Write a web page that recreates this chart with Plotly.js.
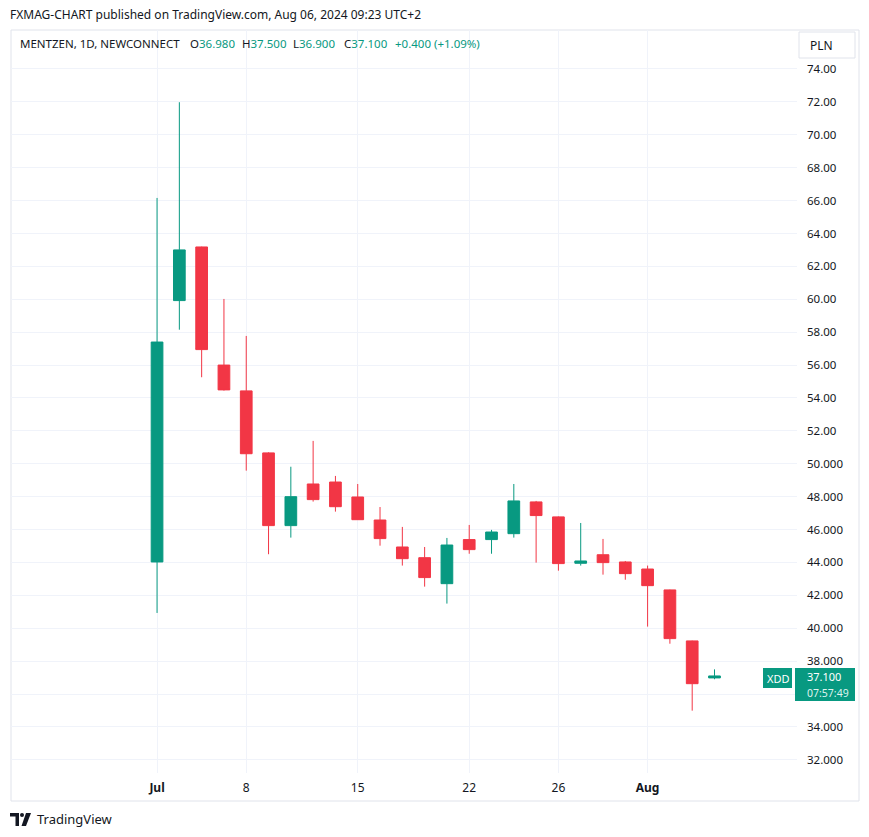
<!DOCTYPE html>
<html>
<head>
<meta charset="utf-8">
<script src="https://cdn.plot.ly/plotly-3.0.1.min.js"></script>
<style>
  html, body { margin: 0; padding: 0; background: #ffffff; }
  #chart { width: 869px; height: 837px; }
</style>
</head>
<body>
<div id="chart"></div>
<script>
// ---- data ----
const dates = [
  "2024-07-02","2024-07-03","2024-07-04","2024-07-05",
  "2024-07-08","2024-07-09","2024-07-10","2024-07-11","2024-07-12",
  "2024-07-15","2024-07-16","2024-07-17","2024-07-18","2024-07-19",
  "2024-07-22","2024-07-23","2024-07-24","2024-07-25","2024-07-26",
  "2024-07-29","2024-07-30","2024-07-31","2024-08-01","2024-08-02",
  "2024-08-05","2024-08-06"
];
const openP  = [44.03, 59.92, 63.18, 56.00, 54.43, 50.66, 46.24, 48.77, 48.89, 47.98, 46.58, 44.94, 44.29, 42.71, 45.39, 45.39, 45.75, 47.68, 46.77, 43.95, 44.47, 44.03, 43.60, 42.33, 39.23, 36.98];
const highP  = [66.16, 71.98, 63.20, 60.02, 57.77, 50.70, 49.82, 51.39, 49.26, 48.77, 47.37, 46.16, 44.94, 45.49, 46.28, 45.98, 48.77, 47.74, 46.80, 46.40, 45.43, 44.09, 43.81, 42.35, 39.25, 37.50];
const lowP   = [40.93, 58.15, 55.26, 54.45, 49.58, 44.50, 45.51, 47.70, 47.09, 46.58, 45.02, 43.81, 42.53, 41.50, 44.53, 44.53, 45.51, 43.99, 43.50, 43.81, 43.26, 42.95, 40.10, 39.06, 34.99, 36.90];
const closeP = [57.40, 63.00, 56.94, 54.49, 50.61, 46.24, 48.00, 47.82, 47.39, 46.60, 45.45, 44.23, 43.08, 45.06, 44.78, 45.85, 47.74, 46.85, 43.93, 44.09, 43.99, 43.32, 42.59, 39.37, 36.63, 37.10];

const xTickVals = ["2024-07-02","2024-07-08","2024-07-15","2024-07-22","2024-07-26","2024-08-01"];
const xTickText = ["<b>Jul</b>","8","15","22","26","<b>Aug</b>"];

// 36 keeps its grid line; its label is hidden behind the last-price tag in the reference
const yTickVals = [32,34,36,38,40,42,44,46,48,50,52,54,56,58,60,62,64,66,68,70,72,74];
const yTickText = ["32.000","34.000","","38.000","40.000","42.000","44.000","46.000","48.000","50.000",
                   "52.00","54.00","56.00","58.00","60.00","62.00","64.00","66.00","68.00","70.00","72.00","74.00"];

const lastClose = "37.100";
const countdown = "07:57:49";

// ---- layout helpers (pixel -> paper) ----
const W = 869, H = 837;
const M = {l: 11, r: 72, t: 30, b: 64};
const PW = W - M.l - M.r, PH = H - M.t - M.b;
const px = x => (x - M.l) / PW;
const py = y => (H - M.b - y) / PH;

const GREEN = "#089981", RED = "#f23645", TXT = "#131722", GRID = "#f0f3fa", BORDER = "#e0e3eb";
const FONT = "Noto Sans, Liberation Sans, sans-serif";

const trace = {
  type: "candlestick",
  x: dates, open: openP, high: highP, low: lowP, close: closeP,
  increasing: {line: {color: GREEN, width: 1}, fillcolor: GREEN},
  decreasing: {line: {color: RED, width: 1}, fillcolor: RED},
  whiskerwidth: 0,
  hoverinfo: "skip",
  showlegend: false
};

function ann(x, y, text, opts) {
  return Object.assign({
    xref: "paper", yref: "paper", x: px(x), y: py(y), text: text,
    showarrow: false, xanchor: "left", yanchor: "middle",
    font: {family: FONT, size: 11.5, color: TXT}
  }, opts || {});
}
const g = s => `<span style="color:${GREEN}">${s}</span>`;

const annotations = [
  ann(8, 15, "FXMAG-CHART published on TradingView.com, Aug 06, 2024 09:23 UTC+2", {font: {family: FONT, size: 12, color: TXT}}),
  ann(18, 44, "MENTZEN, 1D, NEWCONNECT", {font: {family: FONT, size: 11.5, color: TXT}}),
  ann(188, 44, "O" + g("36.980")),
  ann(240, 44, "H" + g("37.500")),
  ann(291, 44, "L" + g("36.900")),
  ann(342, 44, "C" + g("37.100")),
  ann(393, 44, g("+0.400 (+1.09%)")),
  ann(808, 45, "PLN", {font: {family: FONT, size: 12, color: TXT}}),
  ann(765, 678, "XDD", {font: {family: FONT, size: 11, color: "#ffffff"}}),
  ann(805, 676, lastClose, {font: {family: FONT, size: 11, color: "#ffffff"}}),
  ann(805, 693, countdown, {font: {family: FONT, size: 10.5, color: "#dff3ef"}}),
  ann(35, 819, "TradingView", {font: {family: FONT, size: 13, color: TXT}})
];

const shapes = [
  // outer frame
  {type: "rect", xref: "paper", yref: "paper", x0: px(11), x1: px(859), y0: py(801), y1: py(30),
   line: {color: BORDER, width: 1}, layer: "below"},
  // PLN button
  {type: "rect", xref: "paper", yref: "paper", x0: px(799), x1: px(855), y0: py(58), y1: py(32),
   line: {color: BORDER, width: 1}, fillcolor: "#ffffff"},
  // price label
  {type: "rect", xref: "paper", yref: "paper", x0: px(795), x1: px(855), y0: py(701), y1: py(668),
   line: {width: 0}, fillcolor: GREEN, layer: "above"},
  // XDD label
  {type: "rect", xref: "paper", yref: "paper", x0: px(763), x1: px(792), y0: py(688), y1: py(668),
   line: {width: 0}, fillcolor: GREEN, layer: "above"},
  // TradingView logo
  {type: "path", xref: "paper", yref: "paper",
   path: `M ${px(10)} ${py(813)} L ${px(19)} ${py(813)} L ${px(19)} ${py(826)} L ${px(15.5)} ${py(826)} L ${px(15.5)} ${py(816.5)} L ${px(10)} ${py(816.5)} Z`,
   fillcolor: TXT, line: {width: 0}},
  {type: "circle", xref: "paper", yref: "paper", x0: px(20), x1: px(24), y0: py(817), y1: py(813),
   fillcolor: TXT, line: {width: 0}},
  {type: "path", xref: "paper", yref: "paper",
   path: `M ${px(26)} ${py(813)} L ${px(31)} ${py(813)} L ${px(26)} ${py(826)} L ${px(21.5)} ${py(826)} Z`,
   fillcolor: TXT, line: {width: 0}}
];

const layout = {
  width: W, height: H,
  margin: M,
  paper_bgcolor: "#ffffff", plot_bgcolor: "#ffffff",
  showlegend: false,
  boxgap: 0.25,
  xaxis: {
    type: "category",
    range: [-6.55, 28.7],
    rangeslider: {visible: false},
    tickvals: xTickVals, ticktext: xTickText,
    showgrid: true, gridcolor: GRID, gridwidth: 1,
    zeroline: false, showline: false, ticks: "",
    ticklabelstandoff: 6,
    tickfont: {family: FONT, size: 12, color: TXT},
    fixedrange: true
  },
  yaxis: {
    side: "right",
    range: [31.2, 76.37],
    tickmode: "array",
    tickvals: yTickVals, ticktext: yTickText,
    showgrid: true, gridcolor: GRID, gridwidth: 1,
    zeroline: false, showline: false, ticks: "",
    ticklabelstandoff: 9,
    tickfont: {family: FONT, size: 11.5, color: TXT},
    fixedrange: true
  },
  annotations: annotations,
  shapes: shapes
};

Plotly.newPlot("chart", [trace], layout, {staticPlot: true, displayModeBar: false});
</script>
</body>
</html>
